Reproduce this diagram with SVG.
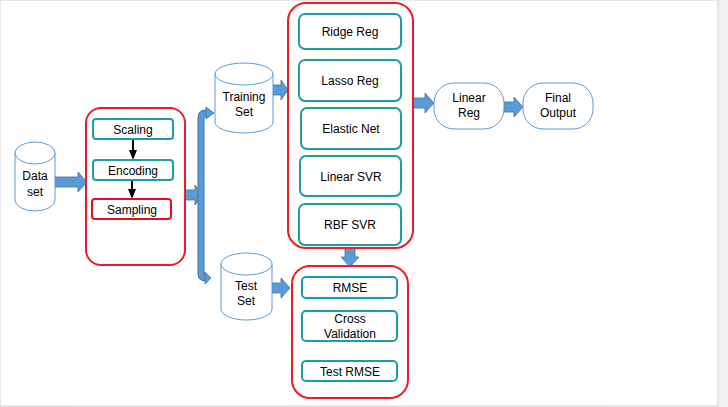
<svg xmlns="http://www.w3.org/2000/svg" width="728" height="407" viewBox="0 0 728 407">
<defs>
<linearGradient id="side" x1="0" y1="0" x2="1" y2="0">
<stop offset="0" stop-color="#e6e6e6"/><stop offset="1" stop-color="#f2f2f2"/>
</linearGradient>
</defs>
<style>
.t{font-family:"Liberation Sans",Arial,sans-serif;font-size:12px;fill:#000;text-anchor:middle}
.grp{fill:none;stroke:#ee1c25;stroke-width:2}
.teal{fill:#fff;stroke:#1b9fa6;stroke-width:2}
.red{fill:#fff;stroke:#e0101e;stroke-width:2}
.cyl{fill:#fff;stroke:#5b9bd5;stroke-width:1}
.ba{fill:#5b9bd5;stroke:#41719c;stroke-width:0.8}
.blk{stroke:#000;stroke-width:2;fill:none}
</style>
<rect x="0" y="0" width="728" height="407" fill="url(#side)"/>
<rect x="0" y="0" width="718" height="406" fill="#fff" stroke="#d4d4d4" stroke-width="1"/>

<g id="connectors">
<path class="ba" d="M55,177 H78 V172 L87,182 L78,192 V187 H55 Z"/>
<path class="ba" d="M185,190 H195 V185 L203,195 L195,205 V200 H185 Z"/>
<path d="M208,113 H206 Q201,113 201,118 V273 Q201,278 206,278 H206" fill="none" stroke="#41719c" stroke-width="7"/>
<path d="M208,113 H206 Q201,113 201,118 V273 Q201,278 206,278 H206" fill="none" stroke="#5b9bd5" stroke-width="5"/>
<path class="ba" d="M206,107 L214,113 L206,119 Z"/>
<path class="ba" d="M205,272 L211,278 L205,284 Z"/>
<path class="ba" d="M273,85 H281 V80 L288,90 L281,100 V95 H273 Z"/>
<path class="ba" d="M272,283 H281 V278 L290,288 L281,298 V293 H272 Z"/>
<path class="ba" d="M345,248 H355 V257 H359 L350,267 L341,257 H345 Z"/>
<path class="ba" d="M413,98 H425 V93 L434,103 L425,113 V108 H413 Z"/>
<path class="ba" d="M504,102 H514 V97 L523,107 L514,117 V112 H504 Z"/>
<path class="blk" d="M133,140 V152"/>
<path d="M129,150 L133,160 L137,150 Z" fill="#000"/>
<path class="blk" d="M132,181 V190"/>
<path d="M128,189 L132,199 L136,189 Z" fill="#000"/>
</g>

<g id="dataset">
<path class="cyl" d="M15,153 A20,11 0 0 1 55,153 V200 A20,11 0 0 1 15,200 Z"/>
<path class="cyl" d="M15,153 A20,11 0 0 0 55,153"/>
<text class="t" x="35" y="180">Data</text>
<text class="t" x="35" y="196">set</text>
</g>

<g id="preprocess">
<rect class="grp" x="86" y="108" width="99" height="157" rx="15"/>
</g>
<g id="scaling"><rect class="teal" x="93" y="119" width="80" height="20" rx="3"/><text class="t" x="133" y="134">Scaling</text></g>
<g id="encoding"><rect class="teal" x="93" y="160" width="80" height="20" rx="3"/><text class="t" x="133" y="175">Encoding</text></g>
<g id="sampling"><rect class="red" x="92" y="199" width="79" height="20" rx="3"/><text class="t" x="132" y="214">Sampling</text></g>

<g id="trainingset">
<path class="cyl" d="M215,74 A29,11 0 0 1 273,74 V122 A29,11 0 0 1 215,122 Z"/>
<path class="cyl" d="M215,74 A29,11 0 0 0 273,74"/>
<text class="t" x="244" y="101">Training</text>
<text class="t" x="244" y="116">Set</text>
</g>

<g id="testset">
<path class="cyl" d="M221,264 A25.5,11 0 0 1 272,264 V309 A25.5,11 0 0 1 221,309 Z"/>
<path class="cyl" d="M221,264 A25.5,11 0 0 0 272,264"/>
<text class="t" x="246" y="290">Test</text>
<text class="t" x="246" y="305">Set</text>
</g>

<g id="models"><rect class="grp" x="288" y="3" width="125" height="245" rx="18"/></g>
<g id="ridge"><rect class="teal" x="299" y="14" width="102" height="35" rx="6"/><text class="t" x="350" y="36">Ridge Reg</text></g>
<g id="lasso"><rect class="teal" x="299" y="60" width="102" height="41" rx="6"/><text class="t" x="350" y="85">Lasso Reg</text></g>
<g id="elastic"><rect class="teal" x="301" y="108" width="100" height="41" rx="6"/><text class="t" x="351" y="133">Elastic Net</text></g>
<g id="linsvr"><rect class="teal" x="300" y="156" width="101" height="40" rx="6"/><text class="t" x="351" y="181">Linear SVR</text></g>
<g id="rbfsvr"><rect class="teal" x="299" y="204" width="102" height="41" rx="6"/><text class="t" x="350" y="229">RBF SVR</text></g>

<g id="evaluation"><rect class="grp" x="292" y="266" width="116" height="132" rx="18"/></g>
<g id="rmse"><rect class="teal" x="302" y="277" width="95" height="21" rx="4"/><text class="t" x="350" y="292">RMSE</text></g>
<g id="cv"><rect class="teal" x="302" y="311" width="95" height="30" rx="4"/><text class="t" x="350" y="323">Cross</text><text class="t" x="350" y="338">Validation</text></g>
<g id="testrmse"><rect class="teal" x="302" y="361" width="95" height="20" rx="4"/><text class="t" x="350" y="376">Test RMSE</text></g>

<g id="linreg"><rect x="434" y="83" width="70" height="46" rx="20" fill="#fff" stroke="#5b9bd5" stroke-width="1"/><text class="t" x="469" y="102">Linear</text><text class="t" x="469" y="117">Reg</text></g>
<g id="final"><rect x="523" y="83" width="70" height="46" rx="20" fill="#fff" stroke="#5b9bd5" stroke-width="1"/><text class="t" x="558" y="102">Final</text><text class="t" x="558" y="117">Output</text></g>
</svg>
